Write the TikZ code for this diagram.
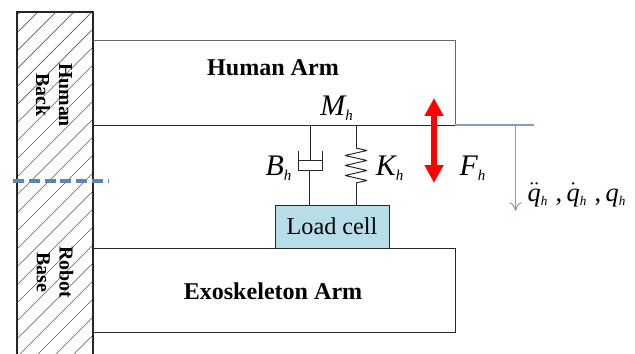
\documentclass[tikz,border=0pt]{standalone}
\usepackage{fontspec}
\setmainfont{Liberation Serif}
\usepackage{amsmath}
\usetikzlibrary{arrows.meta, decorations.pathmorphing}
\definecolor{cellblue}{HTML}{B7DEE8}
\definecolor{lineblue}{HTML}{7F9FCB}
\definecolor{dashblue}{HTML}{5B85BA}
\newcommand{\symh}[1]{$\mathit{#1}_{\scriptscriptstyle\mathit{h}}$}
\tikzset{
    armtitle/.style={font=\fontsize{13.7}{16}\selectfont\bfseries},
    walltext/.style={font=\fontsize{11.3}{12}\selectfont\bfseries, rotate=-90, align=center},
    symlabel/.style={font=\fontsize{17}{20}\selectfont, inner sep=0pt},
    edge/.style={line width=0.55pt, black!85},
}

\begin{document}
\begin{tikzpicture}[x=0.02cm, y=-0.02cm, >=Latex]
        \useasboundingbox (0,0) rectangle (635,354);

        % --- WALL ---
        \begin{scope}
            \clip (17,12) rectangle (93,354);
            \foreach \x in {-340,-322,...,100}
                \draw[gray!70!black, line width=0.4pt] (\x,354) -- ++(342,-342);
        \end{scope}
        \draw[edge, line width=0.8pt] (17,354) -- (17,12) -- (93,12) -- (93,354);
        \node[walltext] (human back) at (54,95) {Human\\[1pt]Back};
        \node[walltext] (robot base) at (55,272) {Robot\\[1pt]Base};
        \draw[dashblue, line width=1.8pt, dash pattern=on 6.2pt off 2.8pt] (13,181) -- (108,181);

        % --- ARMS ---
        \draw[edge] (93,125) -- (455,125);
        \draw[edge, gray!80!black] (93,40) -- (455,40) -- (455,125);
        \node[armtitle] (human arm) at (273,68) {Human Arm};
        \draw[edge] (93,248) -- (455,248) -- (455,332) -- (93,332);
        \node[armtitle] (exo arm) at (273,291) {Exoskeleton Arm};

        % --- LOAD CELL ---
        \node[draw=black!85, line width=0.55pt, fill=cellblue, minimum width=2.28cm, minimum height=0.86cm,
              inner sep=0pt, font=\fontsize{13.8}{16}\selectfont] (load cell) at (332,226.5) {Load cell};

        % --- DAMPER ---
        \draw[edge] (310,125) -- (310,160);
        \draw[edge] (298,160) -- (322,160);
        \draw[edge] (298,151) -- (298,170) -- (322,170) -- (322,151);
        \draw[edge] (309,170) -- (309,205);

        % --- SPRING ---
        \draw[edge] (356,125) -- (356,148);
        \draw[edge, line join=bevel, decorate, decoration={zigzag, amplitude=0.22cm, segment length=0.2cm}] (356,148) -- (356,183);
        \draw[edge] (356,183) -- (356,205);

        % --- FORCE AND MOTION ---
        \draw[red, line width=3.6pt, {Triangle[length=0.36cm, width=0.36cm]}-{Triangle[length=0.36cm, width=0.36cm]}] (434,98) -- (434,183);
        \coordinate (motion end) at (534,125);
        \coordinate (motion start) at (455,125);
        \draw[lineblue, line width=0.6pt] (motion start) -- (motion end);
        \draw[lineblue, line width=0.6pt, -{To[length=5pt, width=7pt]}] (515.5,125) -- (515.5,211);

        % --- LABELS ---
        \node[symlabel] (mass) at (337,108) {\symh{M}};
        \node[symlabel] (damping) at (279,168) {\symh{B}};
        \node[symlabel] (stiffness) at (390,168) {\symh{K}};
        \node[symlabel] (force) at (473,168) {\symh{F}};
        \node[symlabel, font=\fontsize{15}{18}\selectfont] (motion) at (577,195) {$\ddot{\mathit{q}}_{\scriptscriptstyle\mathit{h}}$\;,\,$\dot{\mathit{q}}_{\scriptscriptstyle\mathit{h}}$\;,\,$\mathit{q}_{\scriptscriptstyle\mathit{h}}$};
    \end{tikzpicture}
\end{document}
